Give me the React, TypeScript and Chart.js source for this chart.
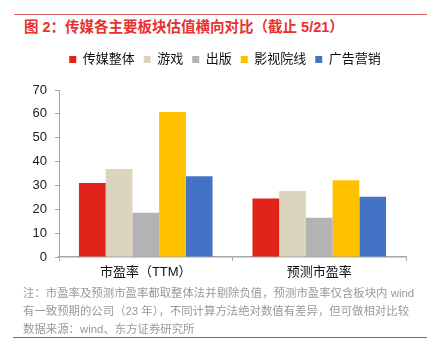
import React, { useEffect, useRef } from "react";
import { Chart, registerables } from "chart.js";

Chart.register(...registerables);

const categories = ["市盈率（TTM）", "预测市盈率"];
const seriesNames = ["传媒整体", "游戏", "出版", "影视院线", "广告营销"];
const seriesColors = ["#e2231a", "#ddd4bf", "#b3b3b3", "#ffc000", "#4472c4"];
const mediaAll = [31.0, 24.5];
const games = [36.9, 27.7];
const publishing = [18.5, 16.4];
const film = [60.8, 32.2];
const advertising = [33.8, 25.3];
const yTicks = [0, 10, 20, 30, 40, 50, 60, 70];

const titleText = "图 2：传媒各主要板块估值横向对比（截止 5/21）";
const noteLines = [
  "注：市盈率及预测市盈率都取整体法并剔除负值，预测市盈率仅含板块内  wind",
  "有一致预期的公司（23 年），不同计算方法绝对数值有差异，但可做相对比较",
  "数据来源：wind、东方证券研究所",
];

const FONT = "'Liberation Sans', 'Noto Sans CJK SC', sans-serif";

const legendTweak = {
  id: "legendTweak",
  beforeInit(chart: any) {
    const lg = chart.legend;
    if (!lg) return;
    const origFit = lg.fit;
    lg.fit = function () {
      origFit.call(this);
      this.height += 14;
    };
  },
  afterLayout(chart: any) {
    const lg = chart.legend;
    if (!lg) return;
    lg.left += 22;
    lg.right += 22;
  },
};

export default function App() {
  const ref = useRef<HTMLCanvasElement | null>(null);
  useEffect(() => {
    if (!ref.current) return;
    const values = [mediaAll, games, publishing, film, advertising];
    const chart = new Chart(ref.current, {
      type: "bar",
      data: {
        labels: categories,
        datasets: seriesNames.map((name, i) => ({
          label: name,
          data: values[i],
          backgroundColor: seriesColors[i],
          borderWidth: 0,
          barPercentage: 1,
          categoryPercentage: 0.77,
        })),
      },
      plugins: [legendTweak],
      options: {
        responsive: false,
        animation: false,
        layout: { padding: { left: 0, right: 21, top: 4, bottom: 0 } },
        plugins: {
          legend: {
            display: true,
            position: "top",
            labels: {
              boxWidth: 7,
              boxHeight: 7,
              padding: 9,
              color: "#111",
              font: { family: FONT, size: 13 },
            },
          },
          tooltip: { enabled: false },
          title: { display: false },
        },
        scales: {
          x: {
            grid: {
              display: true,
              drawOnChartArea: false,
              drawTicks: true,
              tickLength: 4,
              color: "#a6a6a6",
            },
            border: { display: true, color: "#a6a6a6", width: 1.5 },
            ticks: {
              color: "#111",
              padding: 4,
              font: { family: FONT, size: 13 },
            },
            afterFit: (scale: any) => {
              scale.height = 33;
            },
          },
          y: {
            min: 0,
            max: 70,
            afterBuildTicks: (scale: any) => {
              scale.ticks = yTicks.map((v) => ({ value: v }));
            },
            grid: {
              display: true,
              drawOnChartArea: false,
              drawTicks: true,
              tickLength: 4,
              color: "#a6a6a6",
            },
            border: { display: true, color: "#a6a6a6", width: 1 },
            ticks: {
              color: "#222",
              padding: 8,
              font: { family: FONT, size: 13 },
            },
            afterFit: (scale: any) => {
              scale.width = 59;
            },
          },
        },
      },
    });
    return () => chart.destroy();
  }, []);

  return (
    <div
      style={{
        position: "absolute",
        left: 0,
        top: 0,
        width: 427,
        height: 351,
        background: "#fff",
        overflow: "hidden",
        fontFamily: FONT,
      }}
    >
      <div
        style={{
          position: "absolute",
          left: 14,
          top: 14,
          width: 413,
          height: 1,
          background: "#e06060",
        }}
      />
      <div
        style={{
          position: "absolute",
          left: 24,
          top: 17,
          fontSize: 14.5,
          fontWeight: "bold",
          color: "#e8312f",
          whiteSpace: "nowrap",
          lineHeight: "20px",
        }}
      >
        {titleText}
      </div>
      <canvas
        ref={ref}
        width={427}
        height={250}
        style={{ position: "absolute", left: 0, top: 40, width: 427, height: 250 }}
      />
      {noteLines.map((t, i) => (
        <div
          key={i}
          style={{
            position: "absolute",
            left: 23,
            top: 285 + i * 18,
            fontSize: 11.4,
            color: "#999",
            whiteSpace: "nowrap",
            lineHeight: "16px",
          }}
        >
          {t}
        </div>
      ))}
      <div
        style={{
          position: "absolute",
          left: 13,
          top: 337,
          width: 414,
          height: 1,
          background: "#d04848",
        }}
      />
    </div>
  );
}
